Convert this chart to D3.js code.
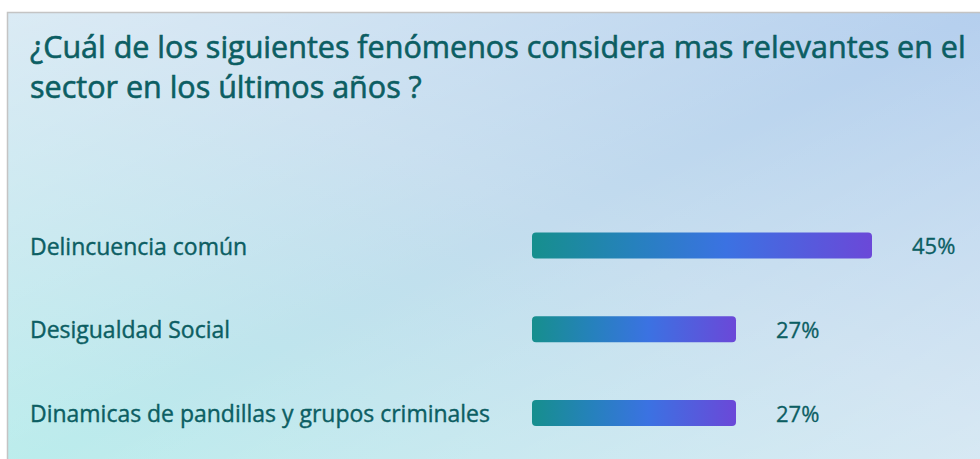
<!DOCTYPE html>
<html>
<head>
<meta charset="utf-8">
<script src="https://cdn.jsdelivr.net/npm/d3@7"></script>
<style>
  html, body { margin: 0; padding: 0; background: #ffffff; }
  svg { display: block; }
</style>
</head>
<body>
<svg id="chart" width="980" height="459"></svg>
<script>
const titleLines = ["¿Cuál de los siguientes fenómenos considera mas relevantes en el", "sector en los últimos años ?"];
const categories = ["Delincuencia común", "Desigualdad Social", "Dinamicas de pandillas y grupos criminales"];
const values = [45, 27, 27];
const valueLabels = ["45%", "27%", "27%"];

const W = 980, H = 459;
const svg = d3.select("#chart");
const defs = svg.append("defs");

// background gradients
const bg1 = defs.append("linearGradient").attr("id", "bg1")
  .attr("x1", "1").attr("y1", "0").attr("x2", "0").attr("y2", "1");
bg1.append("stop").attr("offset", "0").attr("stop-color", "#b5cfee");
bg1.append("stop").attr("offset", "0.45").attr("stop-color", "#c3dcee");
bg1.append("stop").attr("offset", "1").attr("stop-color", "#bbedec");

const bg2 = defs.append("linearGradient").attr("id", "bg2")
  .attr("x1", "0").attr("y1", "0").attr("x2", "1").attr("y2", "1");
bg2.append("stop").attr("offset", "0").attr("stop-color", "#ffffff").attr("stop-opacity", 0.4);
bg2.append("stop").attr("offset", "0.5").attr("stop-color", "#ffffff").attr("stop-opacity", 0);
bg2.append("stop").attr("offset", "1").attr("stop-color", "#ffffff").attr("stop-opacity", 0.35);

const barGrad = defs.append("linearGradient").attr("id", "barGrad")
  .attr("x1", "0").attr("y1", "0").attr("x2", "1").attr("y2", "0");
barGrad.append("stop").attr("offset", "0").attr("stop-color", "#168f8d");
barGrad.append("stop").attr("offset", "0.3").attr("stop-color", "#2681bd");
barGrad.append("stop").attr("offset", "0.57").attr("stop-color", "#3b72e2");
barGrad.append("stop").attr("offset", "1").attr("stop-color", "#6b48d8");

const panel = { x: 7.5, y: 12.5 };
svg.append("rect").attr("x", panel.x).attr("y", panel.y)
  .attr("width", W).attr("height", H).attr("fill", "url(#bg1)");
svg.append("rect").attr("x", panel.x).attr("y", panel.y)
  .attr("width", W).attr("height", H).attr("fill", "url(#bg2)");
svg.append("rect").attr("x", panel.x).attr("y", panel.y)
  .attr("width", W + 10).attr("height", H + 10)
  .attr("fill", "none").attr("stroke", "#c4c4c4").attr("stroke-width", 1.5);

const font = "'Open Sans', 'Noto Sans', sans-serif";
const textColor = "#0c5e63";

// title, sized so the first line spans the same width as the reference
const title = svg.append("text")
  .attr("font-family", font).attr("font-size", 26)
  .attr("fill", textColor)
  .attr("stroke", textColor).attr("stroke-width", 0.6);
titleLines.forEach((t, i) => {
  title.append("tspan").attr("x", 30).attr("y", 58 + i * 40).text(t);
});
const firstLen = title.select("tspan").node().getComputedTextLength();
title.attr("font-size", 26 * 936 / firstLen);

// scales
const x = d3.scaleLinear().domain([0, 45]).range([532, 872]);
const y = d3.scalePoint().domain(categories).range([245.5, 413]);
const barH = 26;

const rows = svg.append("g").selectAll("g")
  .data(categories.map((c, i) => ({ c, v: values[i], l: valueLabels[i] })))
  .join("g");

rows.append("rect")
  .attr("x", x(0))
  .attr("y", d => y(d.c) - barH / 2)
  .attr("width", d => x(d.v) - x(0))
  .attr("height", barH)
  .attr("rx", 4).attr("ry", 4)
  .attr("fill", "url(#barGrad)");

const catText = rows.append("text")
  .attr("x", 30)
  .attr("y", d => y(d.c) + 1)
  .attr("dy", "0.35em")
  .attr("font-family", font).attr("font-size", 20)
  .attr("fill", textColor)
  .attr("stroke", textColor).attr("stroke-width", 0.4)
  .text(d => d.c);
const longest = d3.max(catText.nodes(), n => n.getComputedTextLength());
catText.attr("font-size", 20 * 460 / longest);

rows.append("text")
  .attr("x", d => x(d.v) + 40)
  .attr("y", d => y(d.c) + 1)
  .attr("dy", "0.35em")
  .attr("font-family", font).attr("font-size", 22)
  .attr("fill", textColor)
  .attr("stroke", textColor).attr("stroke-width", 0.3)
  .text(d => d.l);
</script>
</body>
</html>
